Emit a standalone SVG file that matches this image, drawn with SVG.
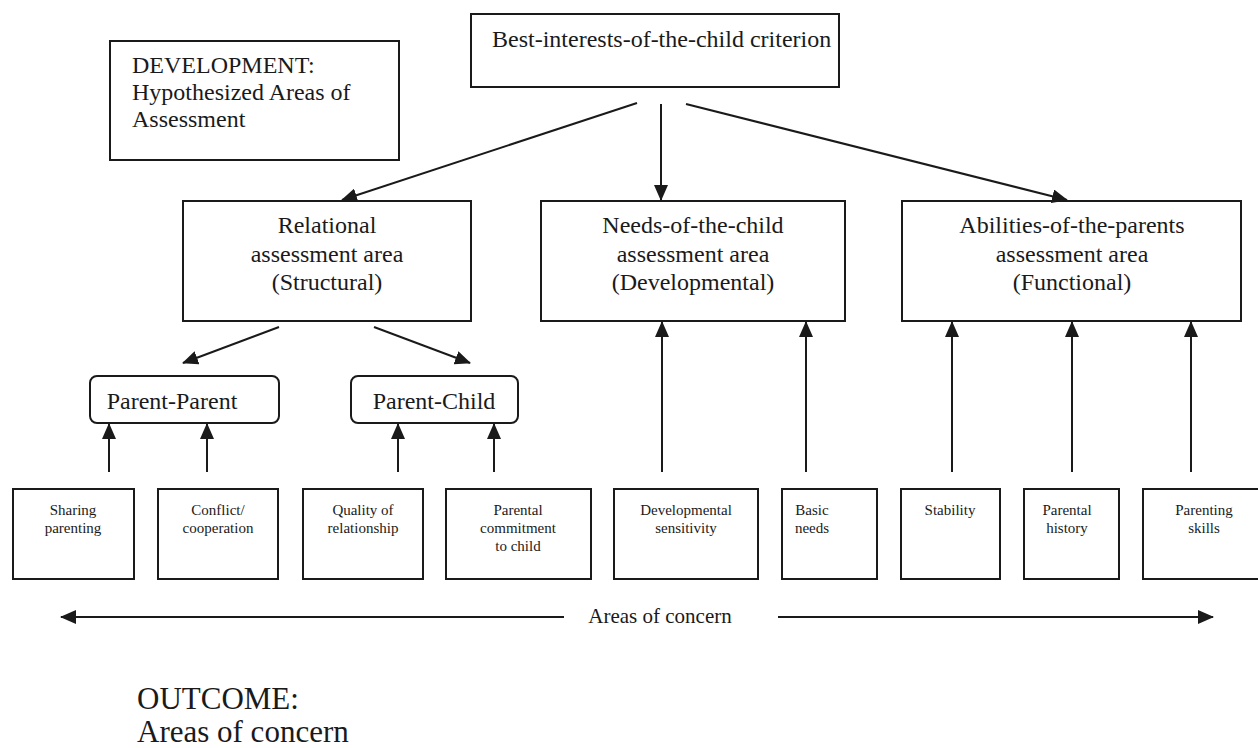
<svg xmlns="http://www.w3.org/2000/svg" width="1258" height="748" viewBox="0 0 1258 748">
<style>
.box{fill:#fff;stroke:#1a1a1a;stroke-width:2}
.t{fill:#1a1a1a;font-family:"Liberation Serif","Times New Roman",serif}
.l{stroke:#1a1a1a;stroke-width:2;fill:none}
.big{font-size:24px}
.sm{font-size:15px}
</style>
<defs>
<marker id="ah" markerWidth="16" markerHeight="14" refX="15" refY="7" orient="auto" markerUnits="userSpaceOnUse">
<path d="M0,0 L16,7 L0,14 z" fill="#1a1a1a"/>
</marker>
</defs>
<rect width="1258" height="748" fill="#fff"/>
<g id="development">
<rect class="box" x="110" y="41" width="289" height="119"/>
<text class="t big" x="132" y="73">DEVELOPMENT:</text>
<text class="t big" x="132" y="100">Hypothesized Areas of</text>
<text class="t big" x="132" y="127">Assessment</text>
</g>
<g id="best">
<rect class="box" x="471" y="14" width="368" height="73"/>
<text class="t big" x="492" y="47">Best-interests-of-the-child criterion</text>
</g>
<g id="relational">
<rect class="box" x="183" y="201" width="288" height="120"/>
<text class="t big" text-anchor="middle" x="327" y="233">Relational</text>
<text class="t big" text-anchor="middle" x="327" y="262">assessment area</text>
<text class="t big" text-anchor="middle" x="327" y="290">(Structural)</text>
</g>
<g id="needs">
<rect class="box" x="541" y="201" width="304" height="120"/>
<text class="t big" text-anchor="middle" x="693" y="233">Needs-of-the-child</text>
<text class="t big" text-anchor="middle" x="693" y="262">assessment area</text>
<text class="t big" text-anchor="middle" x="693" y="290">(Developmental)</text>
</g>
<g id="abilities">
<rect class="box" x="902" y="201" width="339" height="120"/>
<text class="t big" text-anchor="middle" x="1072" y="233">Abilities-of-the-parents</text>
<text class="t big" text-anchor="middle" x="1072" y="262">assessment area</text>
<text class="t big" text-anchor="middle" x="1072" y="290">(Functional)</text>
</g>
<g id="parent-parent">
<rect class="box" x="90" y="376" width="189" height="47" rx="7"/>
<text class="t big" text-anchor="middle" x="172" y="409">Parent-Parent</text>
</g>
<g id="parent-child">
<rect class="box" x="351" y="376" width="167" height="47" rx="7"/>
<text class="t big" text-anchor="middle" x="434" y="409">Parent-Child</text>
</g>
<g id="sharing">
<rect class="box" x="13" y="489" width="121" height="90"/>
<text class="t sm" text-anchor="middle" x="73" y="515">Sharing</text>
<text class="t sm" text-anchor="middle" x="73" y="533">parenting</text>
</g>
<g id="conflict">
<rect class="box" x="158" y="489" width="120" height="90"/>
<text class="t sm" text-anchor="middle" x="218" y="515">Conflict/</text>
<text class="t sm" text-anchor="middle" x="218" y="533">cooperation</text>
</g>
<g id="quality">
<rect class="box" x="303" y="489" width="120" height="90"/>
<text class="t sm" text-anchor="middle" x="363" y="515">Quality of</text>
<text class="t sm" text-anchor="middle" x="363" y="533">relationship</text>
</g>
<g id="commitment">
<rect class="box" x="446" y="489" width="145" height="90"/>
<text class="t sm" text-anchor="middle" x="518" y="515">Parental</text>
<text class="t sm" text-anchor="middle" x="518" y="533">commitment</text>
<text class="t sm" text-anchor="middle" x="518" y="551">to child</text>
</g>
<g id="sensitivity">
<rect class="box" x="614" y="489" width="144" height="90"/>
<text class="t sm" text-anchor="middle" x="686" y="515">Developmental</text>
<text class="t sm" text-anchor="middle" x="686" y="533">sensitivity</text>
</g>
<g id="basic">
<rect class="box" x="782" y="489" width="95" height="90"/>
<text class="t sm" text-anchor="middle" x="812" y="515">Basic</text>
<text class="t sm" text-anchor="middle" x="812" y="533">needs</text>
</g>
<g id="stability">
<rect class="box" x="901" y="489" width="99" height="90"/>
<text class="t sm" text-anchor="middle" x="950" y="515">Stability</text>
</g>
<g id="history">
<rect class="box" x="1024" y="489" width="95" height="90"/>
<text class="t sm" text-anchor="middle" x="1067" y="515">Parental</text>
<text class="t sm" text-anchor="middle" x="1067" y="533">history</text>
</g>
<g id="skills">
<rect class="box" x="1143" y="489" width="125" height="90"/>
<text class="t sm" text-anchor="middle" x="1204" y="515">Parenting</text>
<text class="t sm" text-anchor="middle" x="1204" y="533">skills</text>
</g>
<g id="concern-label">
<text class="t" font-size="21" text-anchor="middle" x="660" y="623">Areas of concern</text>
</g>
<g id="outcome">
<text class="t" font-size="31" x="137" y="709">OUTCOME:</text>
<text class="t" font-size="31" x="137" y="742">Areas of concern</text>
</g>
<g id="connectors">
<line class="l" x1="637" y1="103" x2="342" y2="200" marker-end="url(#ah)"/>
<line class="l" x1="661" y1="104" x2="661" y2="200" marker-end="url(#ah)"/>
<line class="l" x1="686" y1="104" x2="1067" y2="200" marker-end="url(#ah)"/>
<line class="l" x1="279" y1="327" x2="183" y2="363" marker-end="url(#ah)"/>
<line class="l" x1="374" y1="327" x2="470" y2="363" marker-end="url(#ah)"/>
<line class="l" x1="109" y1="472" x2="109" y2="424" marker-end="url(#ah)"/>
<line class="l" x1="207" y1="472" x2="207" y2="424" marker-end="url(#ah)"/>
<line class="l" x1="398" y1="472" x2="398" y2="424" marker-end="url(#ah)"/>
<line class="l" x1="494" y1="472" x2="494" y2="424" marker-end="url(#ah)"/>
<line class="l" x1="662" y1="472" x2="662" y2="322" marker-end="url(#ah)"/>
<line class="l" x1="806" y1="472" x2="806" y2="322" marker-end="url(#ah)"/>
<line class="l" x1="952" y1="472" x2="952" y2="322" marker-end="url(#ah)"/>
<line class="l" x1="1072" y1="472" x2="1072" y2="322" marker-end="url(#ah)"/>
<line class="l" x1="1191" y1="472" x2="1191" y2="322" marker-end="url(#ah)"/>
<line class="l" x1="564" y1="617" x2="61" y2="617" marker-end="url(#ah)"/>
<line class="l" x1="778" y1="617" x2="1213" y2="617" marker-end="url(#ah)"/>
</g>
</svg>
